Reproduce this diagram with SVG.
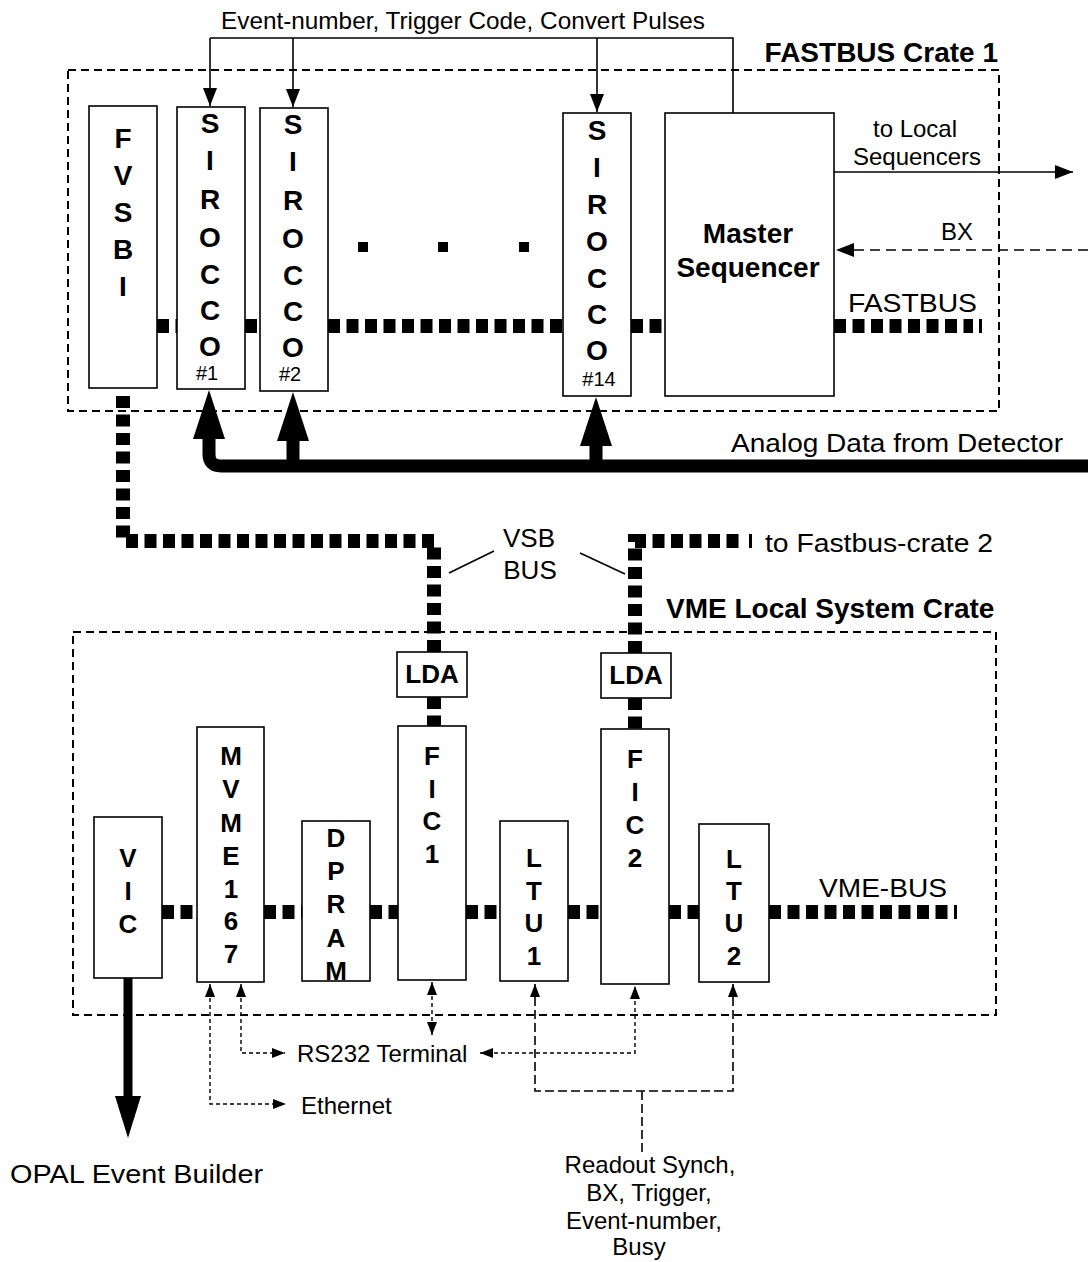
<svg xmlns="http://www.w3.org/2000/svg" width="1088" height="1262" viewBox="0 0 1088 1262">
<style>
.box{fill:#fff;stroke:#000;stroke-width:1.6}
.lbl{font-family:"Liberation Sans",Arial,Helvetica,sans-serif;font-weight:bold;font-size:26px;text-anchor:middle;fill:#000}
.lbt{font-family:"Liberation Sans",Arial,Helvetica,sans-serif;font-weight:bold;font-size:28px;text-anchor:middle;fill:#000}
.num{font-family:"Liberation Sans",Arial,Helvetica,sans-serif;font-size:20px;text-anchor:middle;fill:#000}
.txt{font-family:"Liberation Sans",Arial,Helvetica,sans-serif;font-size:24px;fill:#000}
.big{font-family:"Liberation Sans",Arial,Helvetica,sans-serif;font-size:26px;fill:#000}
.ttl{font-family:"Liberation Sans",Arial,Helvetica,sans-serif;font-weight:bold;font-size:28px;fill:#000}
.crate{fill:none;stroke:#000;stroke-width:2;stroke-dasharray:8 5}
.bus{fill:none;stroke:#000;stroke-width:14;stroke-dasharray:12 6.5}
.sig{fill:none;stroke:#000;stroke-width:1.6}
.ds{fill:none;stroke:#000;stroke-width:1.4;stroke-dasharray:4 3}
.dl{fill:none;stroke:#000;stroke-width:1.6;stroke-dasharray:9 4}
.dbx{fill:none;stroke:#000;stroke-width:1.6;stroke-dasharray:10 6}
.thick{fill:none;stroke:#000;stroke-width:13}
</style>
<defs>
<marker id="ah" markerUnits="userSpaceOnUse" markerWidth="18" markerHeight="14" refX="18" refY="7" orient="auto-start-reverse">
<path d="M0,0 L18,7 L0,14 z" fill="#000"/>
</marker>
<marker id="as" markerUnits="userSpaceOnUse" markerWidth="13" markerHeight="10" refX="13" refY="5" orient="auto-start-reverse">
<path d="M0,0 L13,5 L0,10 z" fill="#000"/>
</marker>
</defs>
<rect width="1088" height="1262" fill="#fff"/>

<g id="crates">
<rect class="crate" x="68" y="70" width="931" height="341"/>
<rect class="crate" x="73" y="632" width="923" height="383"/>
</g>

<g id="connectors">
<!-- FASTBUS -->
<path class="bus" d="M157 326H177M245 326H260M328 326H563M631 326H665M834 326H973"/>
<rect x="979" y="319" width="3" height="14" fill="#000"/>
<rect x="358" y="242" width="10" height="10" fill="#000"/>
<rect x="438" y="242" width="10" height="10" fill="#000"/>
<rect x="519" y="242" width="10" height="10" fill="#000"/>
<!-- VSB -->
<path class="bus" d="M123 396V541H434V652"/>
<path class="bus" d="M434 697V726"/>
<path class="bus" d="M635 653V541H744"/>
<rect x="749" y="534" width="3" height="14" fill="#000"/>
<path class="bus" d="M635 698V729"/>
<line class="sig" x1="449" y1="573" x2="494" y2="551" stroke-width="1"/>
<line class="sig" x1="580" y1="553" x2="625" y2="574" stroke-width="1"/>
<!-- VME bus -->
<path class="bus" d="M162 912H197M264 912H302M370 912H398M466 912H500M568 912H601M669 912H699M769 912H951"/>
<rect x="954" y="905" width="3" height="14" fill="#000"/>
<!-- top signals -->
<path class="sig" d="M210 38H733V113"/>
<path class="sig" d="M210 38V106" marker-end="url(#ah)"/>
<path class="sig" d="M293 38V107" marker-end="url(#ah)"/>
<path class="sig" d="M597 38V112" marker-end="url(#ah)"/>
<path class="sig" d="M834 172H1073" marker-end="url(#ah)"/>
<path class="dbx" d="M1088 250H836" marker-end="url(#ah)"/>
<!-- analog data -->
<path class="thick" d="M209 436V454Q209 466 221 466H1088"/>
<path class="thick" d="M293 438V466M596 443V466"/>
<polygon points="193,439 225,439 209,390" fill="#000"/>
<polygon points="277,441 309,441 293,392" fill="#000"/>
<polygon points="580,446 612,446 596,397" fill="#000"/>
<!-- VIC to event builder -->
<path d="M128 978V1100" stroke="#000" stroke-width="9" fill="none"/>
<polygon points="115,1096 141,1096 128,1138" fill="#000"/>
<!-- bottom signals -->
<path class="ds" d="M210 984V1104H286" marker-start="url(#as)" marker-end="url(#as)"/>
<path class="ds" d="M241 984V1053H285" marker-start="url(#as)" marker-end="url(#as)"/>
<path class="ds" d="M432 982V1035" marker-start="url(#as)" marker-end="url(#as)"/>
<path class="ds" d="M480 1053H635V986" marker-start="url(#as)" marker-end="url(#as)"/>
<path class="dl" d="M535 984V1091H733V984" marker-start="url(#as)" marker-end="url(#as)"/>
<path class="dl" d="M642 1091V1152"/>
</g>

<g id="fvsbi"><rect class="box" x="89" y="106" width="68" height="282"/>
<text class="lbt"><tspan x="123" y="148">F</tspan><tspan x="123" y="185">V</tspan><tspan x="123" y="222">S</tspan><tspan x="123" y="259">B</tspan><tspan x="123" y="296">I</tspan></text></g>

<g id="sirocco1"><rect class="box" x="177" y="107" width="68" height="282"/>
<text class="lbt"><tspan x="210" y="133">S</tspan><tspan x="210" y="170">I</tspan><tspan x="210" y="209">R</tspan><tspan x="210" y="247">O</tspan><tspan x="210" y="284">C</tspan><tspan x="210" y="320">C</tspan><tspan x="210" y="356">O</tspan></text>
<text class="num" x="207" y="380">#1</text></g>

<g id="sirocco2"><rect class="box" x="260" y="108" width="68" height="283"/>
<text class="lbt"><tspan x="293" y="134">S</tspan><tspan x="293" y="171">I</tspan><tspan x="293" y="210">R</tspan><tspan x="293" y="248">O</tspan><tspan x="293" y="285">C</tspan><tspan x="293" y="321">C</tspan><tspan x="293" y="357">O</tspan></text>
<text class="num" x="290" y="381">#2</text></g>

<g id="sirocco14"><rect class="box" x="563" y="113" width="68" height="283"/>
<text class="lbt"><tspan x="597" y="140">S</tspan><tspan x="597" y="177">I</tspan><tspan x="597" y="214">R</tspan><tspan x="597" y="251">O</tspan><tspan x="597" y="288">C</tspan><tspan x="597" y="324">C</tspan><tspan x="597" y="360">O</tspan></text>
<text class="num" x="599" y="386">#14</text></g>

<g id="master-sequencer"><rect class="box" x="665" y="113" width="169" height="283"/>
<text class="lbt" x="748" y="243">Master</text>
<text class="lbt" x="748" y="277">Sequencer</text></g>

<g id="lda1"><rect class="box" x="397" y="652" width="70" height="45"/>
<text class="lbl" x="432" y="683">LDA</text></g>
<g id="lda2"><rect class="box" x="601" y="653" width="70" height="45"/>
<text class="lbl" x="636" y="684">LDA</text></g>

<g id="vic"><rect class="box" x="94" y="817" width="68" height="161"/>
<text class="lbl"><tspan x="128" y="867">V</tspan><tspan x="128" y="900">I</tspan><tspan x="128" y="933">C</tspan></text></g>

<g id="mvme167"><rect class="box" x="197" y="727" width="67" height="255"/>
<text class="lbl"><tspan x="231" y="765">M</tspan><tspan x="231" y="798">V</tspan><tspan x="231" y="832">M</tspan><tspan x="231" y="865">E</tspan><tspan x="231" y="898">1</tspan><tspan x="231" y="930">6</tspan><tspan x="231" y="963">7</tspan></text></g>

<g id="dpram"><rect class="box" x="302" y="821" width="68" height="160"/>
<text class="lbl"><tspan x="336" y="847">D</tspan><tspan x="336" y="880">P</tspan><tspan x="336" y="913">R</tspan><tspan x="336" y="947">A</tspan><tspan x="336" y="980">M</tspan></text></g>

<g id="fic1"><rect class="box" x="398" y="726" width="68" height="254"/>
<text class="lbl"><tspan x="432" y="765">F</tspan><tspan x="432" y="798">I</tspan><tspan x="432" y="830">C</tspan><tspan x="432" y="863">1</tspan></text></g>

<g id="ltu1"><rect class="box" x="500" y="821" width="68" height="160"/>
<text class="lbl"><tspan x="534" y="867">L</tspan><tspan x="534" y="900">T</tspan><tspan x="534" y="932">U</tspan><tspan x="534" y="965">1</tspan></text></g>

<g id="fic2"><rect class="box" x="601" y="729" width="68" height="255"/>
<text class="lbl"><tspan x="635" y="768">F</tspan><tspan x="635" y="801">I</tspan><tspan x="635" y="834">C</tspan><tspan x="635" y="867">2</tspan></text></g>

<g id="ltu2"><rect class="box" x="699" y="824" width="70" height="158"/>
<text class="lbl"><tspan x="734" y="868">L</tspan><tspan x="734" y="900">T</tspan><tspan x="734" y="932">U</tspan><tspan x="734" y="965">2</tspan></text></g>

<g id="labels">
<text class="txt" x="221" y="29" textLength="484" lengthAdjust="spacingAndGlyphs">Event-number, Trigger Code, Convert Pulses</text>
<text class="ttl" x="998" y="62" text-anchor="end" font-size="27.5">FASTBUS Crate 1</text>
<text class="txt" x="915" y="137" text-anchor="middle">to Local</text>
<text class="txt" x="917" y="165" text-anchor="middle">Sequencers</text>
<text class="txt" x="941" y="240">BX</text>
<text class="big" x="848" y="312" font-size="28" textLength="129" lengthAdjust="spacingAndGlyphs">FASTBUS</text>
<text class="big" x="731" y="452" textLength="332" lengthAdjust="spacingAndGlyphs">Analog Data from Detector</text>
<text class="big" x="529" y="547" text-anchor="middle">VSB</text>
<text class="big" x="530" y="579" text-anchor="middle">BUS</text>
<text class="big" x="765" y="552" textLength="228" lengthAdjust="spacingAndGlyphs">to Fastbus-crate 2</text>
<text class="ttl" x="666" y="618">VME Local System Crate</text>
<text class="big" x="819" y="897" textLength="128" lengthAdjust="spacingAndGlyphs">VME-BUS</text>
<text class="txt" x="297" y="1062">RS232 Terminal</text>
<text class="txt" x="301" y="1114">Ethernet</text>
<text class="big" x="10" y="1183" textLength="253" lengthAdjust="spacingAndGlyphs">OPAL Event Builder</text>
<text class="txt" text-anchor="middle"><tspan x="650" y="1173">Readout Synch,</tspan><tspan x="649" y="1201">BX, Trigger,</tspan><tspan x="644" y="1229">Event-number,</tspan><tspan x="639" y="1255">Busy</tspan></text>
</g>
</svg>
